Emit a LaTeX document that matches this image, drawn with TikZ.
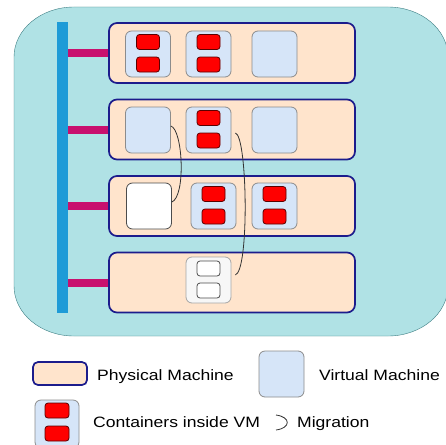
\documentclass[tikz,border=0pt]{standalone}
\usepackage{fontspec}
\newfontfamily\lblfont{Liberation Sans}[FakeStretch=1.17]
\definecolor{bgfill}{RGB}{176,226,229}
\definecolor{bgedge}{RGB}{60,125,130}
\definecolor{pmfill}{RGB}{255,228,204}
\definecolor{pmedge}{RGB}{28,28,140}
\definecolor{vmfill}{RGB}{214,229,248}
\definecolor{vmedge}{RGB}{140,140,140}
\definecolor{ctedge}{RGB}{90,0,0}
\definecolor{busc}{RGB}{30,155,215}
\definecolor{linkc}{RGB}{200,16,110}

\begin{document}
\begin{tikzpicture}[x=1pt,y=-1pt,
  pm/.style={draw=pmedge,fill=pmfill,line width=1.7pt,rounded corners=8pt,minimum width=246pt,minimum height=60pt,inner sep=0pt},
  vm/.style={draw=vmedge,fill=vmfill,line width=0.8pt,rounded corners=6pt,minimum width=45pt,minimum height=46pt,inner sep=0pt},
  ct/.style={draw=ctedge,fill=red,line width=0.8pt,rounded corners=3pt,minimum width=23pt,minimum height=15pt,inner sep=0pt},
  link/.style={draw=linkc,line width=8pt},
  mig/.style={draw=black!80,line width=0.8pt},
  lbl/.style={font=\lblfont\fontsize{15}{18}\selectfont,anchor=base west,inner sep=0pt}]
\clip (0,0) rectangle (446,444);
\fill[white] (0,0) rectangle (446,444);
\filldraw[fill=bgfill,draw=bgedge] (74,7) -- (388,7) .. controls (421.1,7) and (448,29.4) .. (448,57)
  -- (448,286) .. controls (448,313.6) and (421.1,336) .. (388,336)
  -- (74,336) .. controls (40.9,336) and (14,313.6) .. (14,286)
  -- (14,57) .. controls (14,29.4) and (40.9,7) .. (74,7) -- cycle;
\node[fill=busc,minimum width=11pt,minimum height=291pt,inner sep=0pt] (bus) at (62.5,167.5) {};
\foreach \i/\y in {1/53,2/129.5,3/206,4/282.5}
  \node[pm] (pm\i) at (232,\y) {};
\foreach \i in {1,...,4}
  \draw[link] (bus.east |- pm\i.west) -- (pm\i.west);
\node[vm] (vm11) at (148,54) {};
\node[vm] (vm12) at (208.5,54) {};
\node[vm] (vm13) at (274.5,54) {};
\node[vm] (vm21) at (148,130) {};
\node[vm] (vm22) at (208.5,130) {};
\node[vm] (vm23) at (274.5,130) {};
\node[vm,fill=white,draw=black!70] (vm31) at (149,206) {};
\node[vm] (vm32) at (213.5,206) {};
\node[vm] (vm33) at (274.5,206) {};
\node[vm,fill=black!3,draw=black!35] (vm42) at (208.5,280) {};
\foreach \v in {vm11,vm12,vm22,vm32,vm33} {
  \node[ct] (\v-t) at ([yshift=12pt]\v.center) {};
  \node[ct] (\v-b) at ([yshift=-10.5pt]\v.center) {};
}
\node[ct,fill=white,draw=black!70] (vm42-t) at ([yshift=11.5pt]vm42.center) {};
\node[ct,fill=white,draw=black!70] (vm42-b) at ([yshift=-10.5pt]vm42.center) {};
\draw[mig] ([yshift=4pt]vm21.east) .. controls +(12,4) and +(14,-6) .. ([yshift=4pt]vm31.east);
\draw[mig] ([xshift=4pt,yshift=-3pt]vm22.east) .. controls +(12,3) and +(14,-5) .. ([xshift=4pt,yshift=5pt]vm42.east);
\node[pm,minimum width=54pt,minimum height=23pt,rounded corners=5pt] (lgpm) at (60,373.5) {};
\node[lbl] (lgpmtxt) at (97,380) {Physical Machine};
\node[vm] (lgvm) at (281.5,374) {};
\node[lbl] (lgvmtxt) at (319,380) {Virtual Machine};
\node[vm,minimum width=44pt,minimum height=48pt] (lgct) at (57,424) {};
\node[ct,minimum width=24pt] (lgct-t) at (57,410.5) {};
\node[ct,minimum width=24pt] (lgct-b) at (57,433.5) {};
\node[lbl] (lgcttxt) at (93,427) {Containers inside VM};
\draw[mig] (276,415) .. controls (291,417) and (291,428) .. (276,430);
\node[lbl] (lgmigtxt) at (297,427) {Migration};
\end{tikzpicture}
\end{document}
